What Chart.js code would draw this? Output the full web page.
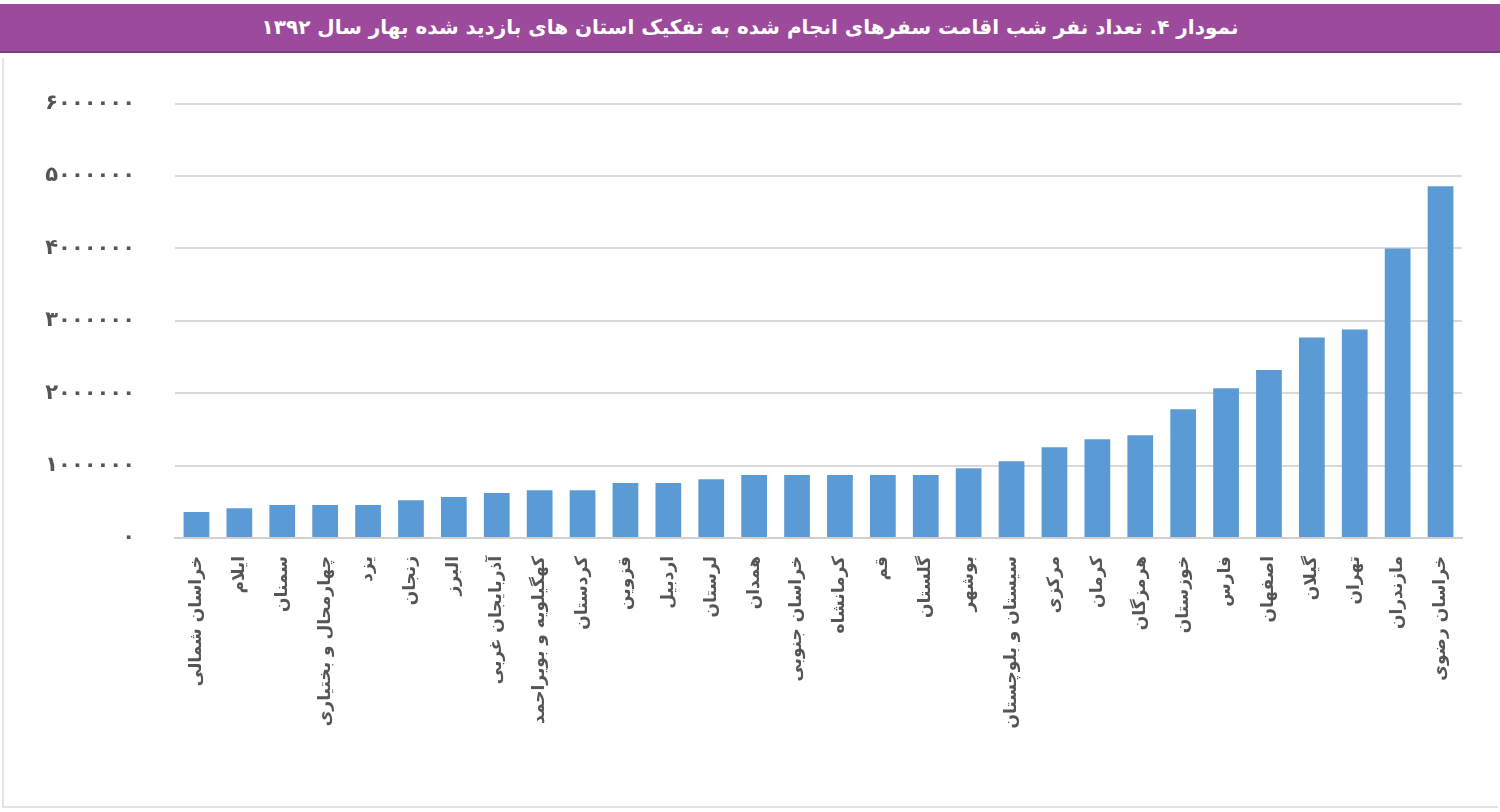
<!DOCTYPE html>
<html lang="fa">
<head>
<meta charset="utf-8">
<script src="https://cdn.jsdelivr.net/npm/chart.js@4.4.1/dist/chart.umd.min.js"></script>
<style>
    html, body { margin: 0; padding: 0; background: #ffffff; }
    body { width: 1500px; height: 812px; position: relative; overflow: hidden; }
    .banner {
        position: absolute; left: 0; top: 4px; width: 1500px; height: 47px;
        background: #9c4a9c; border-bottom: 2px solid #7d3a7d;
        color: #ffffff; font-family: "DejaVu Sans", sans-serif; font-weight: bold;
        font-size: 20px; line-height: 47px; text-align: center; direction: rtl;
        z-index: 2;
    }
    .frame {
        position: absolute; left: 2px; top: 58px; width: 1494px; height: 748px;
        border-left: 2px solid #e4e4e4; border-bottom: 2px solid #e4e4e4;
    }
    .chart-container { position: absolute; left: 0; top: 51px; width: 1500px; height: 761px; }
</style>
</head>
<body>
<div class="banner">نمودار ۴. تعداد نفر شب اقامت سفرهای انجام شده به تفکیک استان های بازدید شده بهار سال ۱۳۹۲</div>
<div class="frame"></div>
<div class="chart-container"><canvas id="chartProvincias"></canvas></div>
<script>
const provincias = [
    'خراسان شمالی', 'ایلام', 'سمنان', 'چهارمحال و بختیاری', 'یزد', 'زنجان',
    'البرز', 'آذربایجان غربی', 'کهگیلویه و بویراحمد', 'کردستان', 'قزوین', 'اردبیل',
    'لرستان', 'همدان', 'خراسان جنوبی', 'کرمانشاه', 'قم', 'گلستان',
    'بوشهر', 'سیستان و بلوچستان', 'مرکزی', 'کرمان', 'هرمزگان', 'خوزستان',
    'فارس', 'اصفهان', 'گیلان', 'تهران', 'مازندران', 'خراسان رضوی'
];
const nochesEstancia = [
    360000, 410000, 455000, 455000, 455000, 520000,
    565000, 620000, 660000, 660000, 760000, 760000,
    810000, 870000, 870000, 870000, 870000, 870000,
    965000, 1060000, 1255000, 1365000, 1420000, 1780000,
    2070000, 2320000, 2770000, 2880000, 4000000, 4860000
];
const ejeYMax = 6000000;
const ejeYPaso = 1000000;

function aDigitosPersas(n) {
    return String(n).replace(/\d/g, d => '۰۱۲۳۴۵۶۷۸۹'[d]);
}

const ctx = document.getElementById('chartProvincias').getContext('2d');
new Chart(ctx, {
    type: 'bar',
    data: {
        labels: provincias,
        datasets: [{
            data: nochesEstancia,
            backgroundColor: '#5b9bd5',
            borderWidth: 0,
            barPercentage: 0.6,
            categoryPercentage: 1.0
        }]
    },
    options: {
        responsive: true,
        maintainAspectRatio: false,
        animation: false,
        layout: { padding: { top: 34, right: 38, left: 0, bottom: 0 } },
        plugins: {
            legend: { display: false },
            tooltip: { enabled: false }
        },
        scales: {
            x: {
                grid: { display: false },
                border: { color: '#d0d0d0', width: 2 },
                ticks: {
                    autoSkip: false,
                    maxRotation: 90,
                    minRotation: 90,
                    padding: 10,
                    color: '#555555',
                    font: { family: 'DejaVu Sans', size: 17, weight: 'bold' }
                },
                afterFit: scale => { scale.height = 274; }
            },
            y: {
                min: 0,
                max: ejeYMax,
                grid: { color: '#d9d9d9', lineWidth: 2, drawTicks: false },
                border: { display: false },
                ticks: {
                    stepSize: ejeYPaso,
                    padding: 40,
                    color: '#555555',
                    font: { family: 'DejaVu Sans', size: 21, weight: 'bold' },
                    callback: v => aDigitosPersas(v)
                },
                afterFit: scale => { scale.width = 175; }
            }
        }
    }
});
</script>
</body>
</html>
